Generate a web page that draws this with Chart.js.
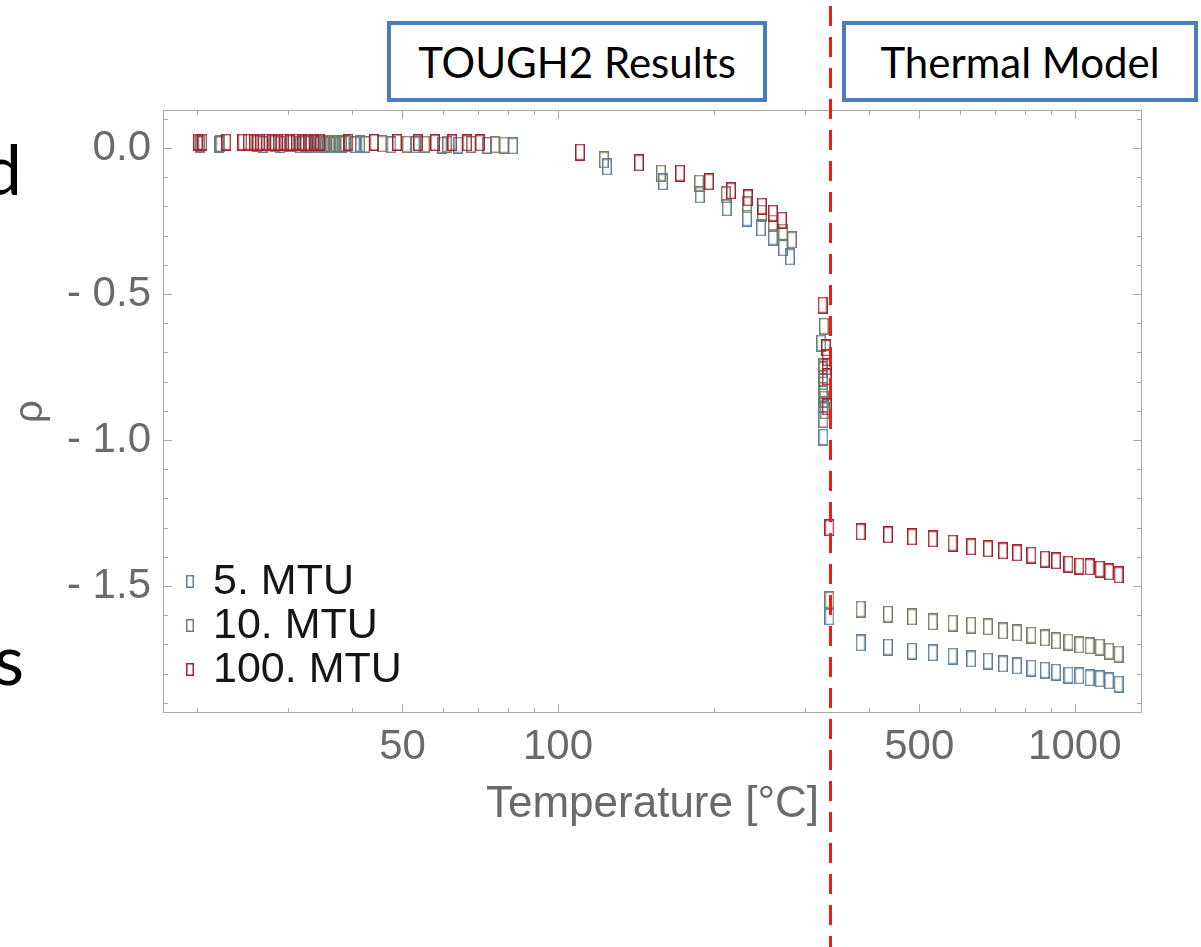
<!DOCTYPE html>
<html>
<head>
<meta charset="utf-8">
<script src="https://cdn.jsdelivr.net/npm/chart.js@4"></script>
<style>
    html, body { margin: 0; padding: 0; background: #fff; }
    body { width: 1201px; height: 947px; position: relative; overflow: hidden; }
    #chart { position: absolute; left: 0; top: 0; }
    .label-box {
        position: absolute; top: 21px; height: 81px; box-sizing: border-box;
        border: 4px solid #4a7ebb; background: #fff; color: #000;
        font-family: Lato, sans-serif; font-size: 42px;
        display: flex; align-items: center; justify-content: center;
    }
    .slide-text {
        position: absolute; width: 200px; text-align: right;
        font-family: Lato, sans-serif; font-size: 70px; line-height: 1; color: #000;
    }
</style>
</head>
<body>
<div class="slide-text" style="left:-178px; top:133px">d</div>
<div class="slide-text" style="left:-176px; top:623px">s</div>
<canvas id="chart" width="1201" height="947"></canvas>
<div class="label-box" style="left:387px; width:380px">TOUGH2 Results</div>
<div class="label-box" style="left:842px; width:356px">Thermal Model</div>
<script>
// axis ranges and ticks
const xMin = 17.2;
const xMax = 1349;
const yMin = -1.935;
const yMax = 0.13;
const xTickValues = [50, 100, 500, 1000];
const xMinorTicks = [20, 30, 40, 60, 70, 80, 90, 200, 300, 400, 600, 700, 800, 900];
const yTickValues = [0, -0.5, -1.0, -1.5];
const yMinorTicks = [0.1, -0.1, -0.2, -0.3, -0.4, -0.6, -0.7, -0.8, -0.9, -1.1, -1.2, -1.3, -1.4, -1.6, -1.7, -1.8, -1.9];
const dividerTemp = 336;

const seriesNames = ['5. MTU', '10. MTU', '100. MTU'];
const seriesColors = ['#5f7e96', '#787c64', '#a3222a'];

// thermal model temperatures (shared by all runs)
const thermalTemps = [335, 385, 435, 484, 531, 580, 630, 679, 726, 773, 824, 875, 920, 972, 1020, 1068, 1117, 1165, 1215];

// 5 MTU
const temps5 = [20.3, 22.1, 26.8, 29.0, 31.7, 33.1, 34.3, 35.2, 36.2, 37.2, 38.2, 40.5, 42.4, 47.6, 52.9, 59.7, 64.1, 72.9, 81.8,
    124.4, 159.6, 188.1, 212.1, 232.1, 247.0, 260.5, 272.4, 281.0,
    323, 325, 326, 326, 326, 326, 326];
const rho5 = [0.012, 0.012, 0.012, 0.012, 0.011, 0.012, 0.011, 0.012, 0.011, 0.011, 0.012, 0.011, 0.012, 0.011, 0.011, 0.010, 0.010, 0.009, 0.007,
    -0.065, -0.116, -0.161, -0.205, -0.240, -0.274, -0.305, -0.342, -0.373,
    -0.668, -0.76, -0.80, -0.84, -0.88, -0.93, -0.99];
const thermalRho5 = [-1.606, -1.695, -1.709, -1.723, -1.729, -1.740, -1.750, -1.757, -1.767, -1.774, -1.781, -1.788, -1.795, -1.805, -1.808, -1.815, -1.818, -1.825, -1.836];

// 10 MTU
const temps10 = [20.3, 22.2, 26.2, 28.3, 30.3, 32.4, 33.9, 34.6, 35.4, 36.2, 37.0, 37.9, 38.7, 41.4, 45.6, 51.0, 55.3, 61.0, 67.9, 75.5, 78.6,
    122.7, 158.2, 187.4, 211.2, 232.1, 248.1, 260.5, 272.4, 283.5,
    327, 326, 326, 326, 327, 328];
const rho10 = [0.015, 0.015, 0.015, 0.014, 0.015, 0.014, 0.015, 0.014, 0.015, 0.014, 0.014, 0.015, 0.014, 0.014, 0.014, 0.013, 0.013, 0.013, 0.012, 0.011, 0.010,
    -0.041, -0.086, -0.120, -0.161, -0.195, -0.223, -0.257, -0.288, -0.315,
    -0.61, -0.75, -0.79, -0.83, -0.86, -0.90];
const thermalRho10 = [-1.548, -1.579, -1.596, -1.606, -1.623, -1.627, -1.634, -1.640, -1.654, -1.661, -1.668, -1.678, -1.688, -1.692, -1.702, -1.705, -1.709, -1.723, -1.733];

// 100 MTU
const temps100 = [20.1, 20.5, 22.8, 24.5, 25.1, 25.8, 26.5, 27.2, 28.0, 28.7, 29.5, 30.3, 31.1, 32.0, 32.8, 33.7, 34.6, 39.3, 44.1, 48.8, 53.6, 57.8, 62.4, 66.7, 70.6,
    110.3, 143.4, 172.2, 195.9, 216.1, 233.0, 248.1, 260.5, 271.3,
    325, 330, 331, 331, 331, 331];
const rho100 = [0.020, 0.020, 0.020, 0.020, 0.020, 0.020, 0.020, 0.020, 0.020, 0.020, 0.020, 0.020, 0.020, 0.020, 0.020, 0.020, 0.020, 0.019, 0.019, 0.019, 0.018, 0.018, 0.018, 0.017, 0.017,
    -0.014, -0.051, -0.086, -0.116, -0.147, -0.171, -0.199, -0.223, -0.247,
    -0.538, -0.685, -0.719, -0.750, -0.784, -0.887];
const thermalRho100 = [-1.301, -1.315, -1.325, -1.332, -1.339, -1.353, -1.366, -1.373, -1.380, -1.387, -1.394, -1.408, -1.414, -1.425, -1.432, -1.435, -1.442, -1.452, -1.462];

const labelFamily = "'Liberation Sans', Arial, sans-serif";
const tickFont = { family: labelFamily, size: 42 };
const tickColor = '#6a6a6a';
const frameColor = '#a8a8a8';

// tall open rectangle used as the plot marker
function markerImage(color, w, h) {
    const c = document.createElement('canvas');
    c.width = w;
    c.height = h;
    const ctx = c.getContext('2d');
    ctx.strokeStyle = color;
    ctx.lineWidth = 1.5;
    ctx.strokeRect(0.75, 0.75, w - 1.5, h - 1.5);
    return c;
}

function toPoints(temps, rhos) {
    return temps.map((t, i) => ({ x: t, y: rhos[i] }));
}

const seriesPoints = [
    toPoints(temps5.concat(thermalTemps), rho5.concat(thermalRho5)),
    toPoints(temps10.concat(thermalTemps), rho10.concat(thermalRho10)),
    toPoints(temps100.concat(thermalTemps), rho100.concat(thermalRho100))
];

const legendMarkers = seriesColors.map(c => markerImage(c, 8, 13));

const datasets = seriesNames.map((name, i) => ({
    label: name,
    data: seriesPoints[i],
    pointStyle: markerImage(seriesColors[i], 10, 17),
    pointRadius: 4,
    borderColor: seriesColors[i],
    backgroundColor: seriesColors[i],
    order: seriesNames.length - i
}));

// frame with inward ticks on all four sides
const frameTicks = {
    id: 'frameTicks',
    afterDatasetsDraw(chart) {
        const { ctx, chartArea: a, scales: { x, y } } = chart;
        ctx.save();
        ctx.strokeStyle = frameColor;
        ctx.lineWidth = 1;
        ctx.strokeRect(a.left + 0.5, a.top + 0.5, a.right - a.left - 1, a.bottom - a.top - 1);
        ctx.beginPath();
        const xTick = (v, len) => {
            const px = Math.round(x.getPixelForValue(v)) + 0.5;
            ctx.moveTo(px, a.bottom); ctx.lineTo(px, a.bottom - len);
            ctx.moveTo(px, a.top); ctx.lineTo(px, a.top + len);
        };
        const yTick = (v, len) => {
            const py = Math.round(y.getPixelForValue(v)) + 0.5;
            ctx.moveTo(a.left, py); ctx.lineTo(a.left + len, py);
            ctx.moveTo(a.right, py); ctx.lineTo(a.right - len, py);
        };
        xTickValues.forEach(v => xTick(v, 9));
        xMinorTicks.forEach(v => xTick(v, 5));
        yTickValues.forEach(v => yTick(v, 9));
        yMinorTicks.forEach(v => yTick(v, 5));
        ctx.stroke();
        ctx.restore();
    }
};

// legend inside the plot and the dashed divider between the two regimes
const overlays = {
    id: 'overlays',
    afterDraw(chart) {
        const { ctx, scales: { x } } = chart;
        ctx.save();
        ctx.font = '43px ' + labelFamily;
        ctx.fillStyle = '#151515';
        ctx.textBaseline = 'middle';
        seriesNames.forEach((name, i) => {
            const rowY = 581 + i * 44;
            ctx.drawImage(legendMarkers[i], 186, rowY - 6);
            ctx.fillText(name, 213, rowY + 1);
        });

        const px = Math.round(x.getPixelForValue(dividerTemp)) + 0.5;
        ctx.strokeStyle = '#f41818';
        ctx.lineWidth = 3;
        ctx.setLineDash([20, 11]);
        ctx.beginPath();
        ctx.moveTo(px, 6);
        ctx.lineTo(px, 947);
        ctx.stroke();
        ctx.restore();
    }
};

new Chart(document.getElementById('chart'), {
    type: 'scatter',
    data: { datasets },
    options: {
        responsive: false,
        animation: false,
        devicePixelRatio: 1,
        layout: { padding: { left: 0, top: 110, right: 59, bottom: 104 } },
        plugins: {
            legend: { display: false },
            tooltip: { enabled: false }
        },
        scales: {
            x: {
                type: 'logarithmic',
                min: xMin,
                max: xMax,
                border: { display: false },
                grid: { display: false, drawTicks: false },
                afterFit: scale => { scale.height = 130; },
                afterBuildTicks: scale => { scale.ticks = xTickValues.map(v => ({ value: v })); },
                ticks: {
                    callback: v => String(v),
                    font: tickFont,
                    color: tickColor,
                    padding: 9,
                    maxRotation: 0,
                    autoSkip: false
                },
                title: {
                    display: true,
                    text: 'Temperature [°C]',
                    font: { family: labelFamily, size: 44 },
                    color: tickColor,
                    padding: { top: 0, bottom: 12 }
                }
            },
            y: {
                min: yMin,
                max: yMax,
                border: { display: false },
                grid: { display: false, drawTicks: false },
                afterFit: scale => { scale.width = 163; },
                afterBuildTicks: scale => { scale.ticks = yTickValues.map(v => ({ value: v })); },
                ticks: {
                    callback: v => v === 0 ? '0.0' : '- ' + Math.abs(v).toFixed(1),
                    font: tickFont,
                    color: tickColor,
                    padding: 12
                },
                title: {
                    display: true,
                    text: 'ρ',
                    font: { family: labelFamily, size: 40 },
                    color: tickColor,
                    padding: { top: 7, bottom: 0 }
                }
            }
        }
    },
    plugins: [frameTicks, overlays]
});
</script>
</body>
</html>
